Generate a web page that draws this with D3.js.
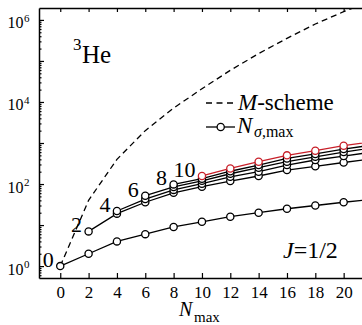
<!DOCTYPE html>
<html>
<head>
<meta charset="utf-8">
<script src="https://cdn.jsdelivr.net/npm/d3@7"></script>
<style>
    body { margin: 0; background: #fff; }
    svg text { font-family: "Liberation Serif", "Times New Roman", serif !important; fill: #000; }
</style>
</head>
<body>
<script>
// N_max values where the curves are sampled (last one runs off the right edge)
const nmaxValues = [0, 2, 4, 6, 8, 10, 12, 14, 16, 18, 20, 22];
const nmaxTicks = [0, 2, 4, 6, 8, 10, 12, 14, 16, 18, 20];
const yLabelExps = [0, 2, 4, 6];

// dashed M-scheme dimension, one value per nmaxValues
const mScheme = [1, 40, 400, 2000, 7100, 21000, 59000, 151000, 355000, 794000, 1585000, 2950000];

// N_sigma,max series, each starts at N_max = its own N_sigma,max
const nSigmaStarts = [0, 2, 4, 6, 8, 10];
const nSigma0 = [1, 2, 4, 6, 9, 12, 16, 20, 25, 30, 36, 42];
const nSigma2 = [7, 19, 36, 61, 86, 118, 157, 219, 270, 335, 410];
const nSigma4 = [22, 43, 72, 102, 150, 200, 290, 385, 480, 600];
const nSigma6 = [52, 85, 120, 178, 250, 350, 460, 600, 760];
const nSigma8 = [98, 135, 205, 290, 420, 540, 710, 890];
const nSigma10 = [157, 240, 350, 500, 650, 860, 1080];

const serif = '"Liberation Serif", "Times New Roman", serif';

function drawGraph() {
    const width = 362,
        height = 325;
    const left = 39, top = 8, bottom = 278;

    const svg = d3.select('body')
        .append('svg')
        .attr('width', width)
        .attr('height', height)
        .attr('font-family', serif);

    const x = d3.scaleLinear().domain([-1.5, 23]).range([left, left + 24.5 * 14.17]);
    const y = d3.scaleLog().domain([Math.pow(10, -0.29), Math.pow(10, 6.29)]).range([bottom, top]);
    const right = x.range()[1];

    svg.append('clipPath').attr('id', 'plot')
        .append('rect')
        .attr('x', left).attr('y', top)
        .attr('width', right - left).attr('height', bottom - top);

    // axes
    const xb = svg.append('g')
        .attr('transform', `translate(0,${bottom})`)
        .call(d3.axisBottom(x).tickValues(nmaxTicks).tickSize(-5).tickPadding(8).tickSizeOuter(0));
    xb.attr('font-family', serif).attr('font-size', 17);

    svg.append('g')
        .attr('transform', `translate(0,${top})`)
        .call(d3.axisTop(x).tickValues(nmaxTicks).tickSize(-4).tickFormat('').tickSizeOuter(0));

    const majors = d3.range(0, 7).map(e => Math.pow(10, e));
    const minors = [];
    for (let e = -1; e < 7; e++) {
        for (let m = 2; m < 10; m++) {
            const v = m * Math.pow(10, e);
            if (v > y.domain()[0] && v < y.domain()[1]) minors.push(v);
        }
    }
    svg.append('g')
        .attr('transform', `translate(${left},0)`)
        .call(d3.axisLeft(y).tickValues(majors).tickSize(-5).tickFormat('').tickSizeOuter(0));
    svg.append('g')
        .attr('transform', `translate(${left},0)`)
        .call(d3.axisLeft(y).tickValues(minors).tickSize(-2.5).tickFormat('').tickSizeOuter(0))
        .select('.domain').remove();

    svg.selectAll('.domain').attr('stroke-width', 1.5);
    svg.selectAll('.tick line').attr('stroke-width', 1.2);

    // y labels as 10^n
    const yl = svg.append('g');
    yLabelExps.forEach(e => {
        const yy = y(Math.pow(10, e));
        yl.append('text').attr('x', 23.5).attr('y', yy + 8.5)
            .attr('text-anchor', 'end').style('font-size', '16px').text('10');
        yl.append('text').attr('x', 24).attr('y', yy + 1.7)
            .style('font-size', '11px').text(e);
    });

    const plot = svg.append('g').attr('clip-path', 'url(#plot)');
    const line = d3.line().x(d => x(d.n)).y(d => y(d.v));

    // M-scheme
    const mData = nmaxValues.map((n, i) => ({n: n, v: mScheme[i]}));
    plot.append('path')
        .attr('d', line(mData))
        .attr('fill', 'none')
        .attr('stroke', '#000')
        .attr('stroke-width', 1.3)
        .attr('stroke-dasharray', '6,4');

    const series = [nSigma0, nSigma2, nSigma4, nSigma6, nSigma8, nSigma10];
    series.forEach((vals, si) => {
        const start = nSigmaStarts[si];
        const data = vals.map((v, i) => ({n: start + 2 * i, v: v}));
        const col = si === series.length - 1 ? '#c8202a' : '#000';
        plot.append('path')
            .attr('d', line(data))
            .attr('fill', 'none')
            .attr('stroke', col)
            .attr('stroke-width', 1.3);
        plot.selectAll(null)
            .data(data)
            .enter().append('circle')
            .attr('cx', d => x(d.n))
            .attr('cy', d => y(d.v))
            .attr('r', 3.6)
            .attr('fill', '#fff')
            .attr('stroke', col)
            .attr('stroke-width', 1.3);

        // label with the N_sigma,max value next to the first point
        svg.append('text')
            .attr('x', x(start) - 6.5)
            .attr('y', y(vals[0]) + 1)
            .attr('text-anchor', 'end')
            .style('font-size', '22px')
            .text(start);
    });

    // 3He
    svg.append('text').attr('x', 73).attr('y', 50).style('font-size', '17px').text('3');
    svg.append('text').attr('x', 82).attr('y', 63).style('font-size', '25px').text('He');

    // legend
    svg.append('line')
        .attr('x1', 206).attr('x2', 237).attr('y1', 103).attr('y2', 103)
        .attr('stroke', '#000').attr('stroke-width', 1.3).attr('stroke-dasharray', '6,4.5');
    const t1 = svg.append('text').attr('x', 238).attr('y', 110).style('font-size', '23px');
    t1.append('tspan').style('font-style', 'italic').text('M');
    t1.append('tspan').text('-scheme');

    svg.append('line')
        .attr('x1', 206).attr('x2', 235).attr('y1', 127).attr('y2', 127)
        .attr('stroke', '#000').attr('stroke-width', 1.3);
    svg.append('circle').attr('cx', 220.7).attr('cy', 127).attr('r', 3.6)
        .attr('fill', '#fff').attr('stroke', '#000').attr('stroke-width', 1.3);
    svg.append('text').attr('x', 237).attr('y', 133)
        .style('font-size', '23px').style('font-style', 'italic').text('N');
    const sub = svg.append('text').attr('x', 254).attr('y', 137).style('font-size', '16px');
    sub.append('tspan').style('font-style', 'italic').text('σ');
    sub.append('tspan').text(',max');

    // J=1/2
    const jt = svg.append('text').attr('x', 283).attr('y', 258).style('font-size', '24px');
    jt.append('tspan').style('font-style', 'italic').text('J');
    jt.append('tspan').text('=1/2');

    // x title
    svg.append('text').attr('x', 179).attr('y', 316)
        .style('font-size', '20px').style('font-style', 'italic').text('N');
    svg.append('text').attr('x', 194).attr('y', 322)
        .style('font-size', '15px').text('max');
}

drawGraph();
</script>
</body>
</html>
